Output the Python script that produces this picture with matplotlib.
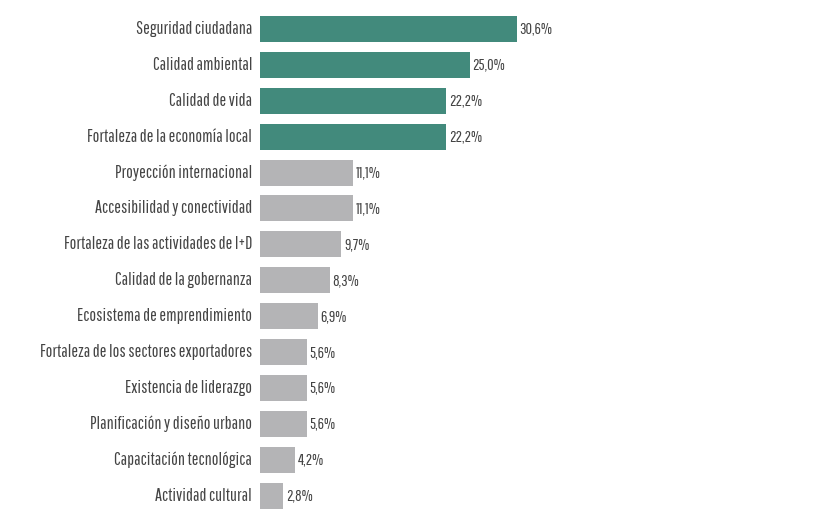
import matplotlib
matplotlib.use("Agg")
import matplotlib.pyplot as plt

categories = [
    "Seguridad ciudadana",
    "Calidad ambiental",
    "Calidad de vida",
    "Fortaleza de la economía local",
    "Proyección internacional",
    "Accesibilidad y conectividad",
    "Fortaleza de las actividades de I+D",
    "Calidad de la gobernanza",
    "Ecosistema de emprendimiento",
    "Fortaleza de los sectores exportadores",
    "Existencia de liderazgo",
    "Planificación y diseño urbano",
    "Capacitación tecnológica",
    "Actividad cultural",
]
values = [30.6, 25.0, 22.2, 22.2, 11.1, 11.1, 9.7, 8.3, 6.9, 5.6, 5.6, 5.6, 4.2, 2.8]
highlight = 4  # number of leading bars drawn in the accent colour

TEAL = "#428a7c"
GRAY = "#b4b4b6"
TEXT = "#444444"
FONT = ["Pathway Gothic One", "DejaVu Sans"]

fig = plt.figure(figsize=(8.18, 5.13), dpi=100)
W, H = 818, 513
ax = fig.add_axes([260 / W, 0, 1 - 260 / W, 1])
px_per_unit = (516.7 - 260) / 30.6
ax.set_xlim(0, (W - 260) / px_per_unit)
step = 35.9
top = 29.0
ax.set_ylim((H - top) / step, -top / step)

colors = [TEAL if i < highlight else GRAY for i in range(len(values))]
ypos = list(range(len(values)))
ax.barh(ypos, values, height=26 / step, color=colors, edgecolor="none")

for y, v, name in zip(ypos, values, categories):
    ax.text(v + 0.3, y, f"{v:.1f}%".replace(".", ","), va="center", ha="left",
            fontsize=11.6, color=TEXT, family=FONT)
    ax.text(-0.95, y, name, va="center", ha="right", fontsize=12.8,
            color=TEXT, family=FONT, clip_on=False)

ax.axis("off")
fig.savefig("out.png", dpi=100)
